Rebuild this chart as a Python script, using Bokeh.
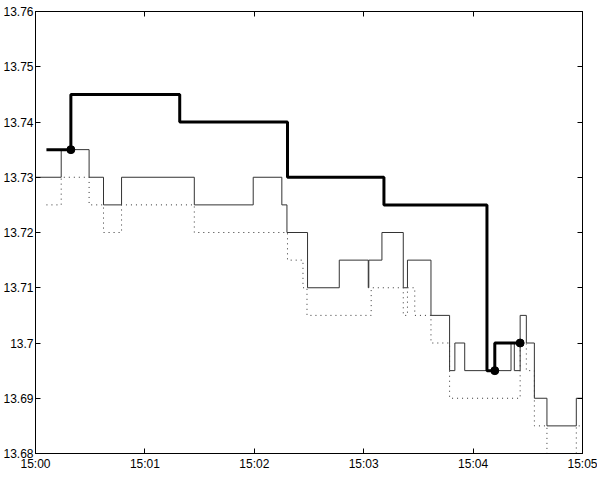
import pandas as pd
from bokeh.plotting import figure
from bokeh.models import (FixedTicker, DatetimeAxis, LinearAxis,
                          DatetimeTickFormatter, Range1d)
from bokeh.embed import file_html
from bokeh.resources import INLINE

# ---------------- data (seconds after 15:00:00) ----------------
ask_t = [0, 14.1, 29.4, 37.3, 47.2, 87.1, 119.4, 135.1, 137.9, 149.2, 166.6,
         182.5, 182.8, 190.0, 201.7, 204.0, 216.9, 227.1, 230.0, 235.4, 260.8,
         262.6, 265.8, 269.2, 273.6, 280.5, 296.6, 300]
ask_v = [13.73, 13.735, 13.73, 13.725, 13.73, 13.725, 13.73, 13.725, 13.72,
         13.71, 13.715, 13.71, 13.715, 13.72, 13.71, 13.715, 13.705, 13.695,
         13.70, 13.695, 13.70, 13.695, 13.705, 13.70, 13.69, 13.685, 13.69,
         13.69]

bid_t = [6.0, 14.1, 29.4, 37.3, 47.2, 87.1, 138.2, 146.7, 148.9, 184.1, 201.7,
         204.0, 208.0, 216.9, 227.1, 265.8, 269.2, 273.6, 280.5, 296.6, 300]
bid_v = [13.725, 13.73, 13.725, 13.72, 13.725, 13.72, 13.715, 13.71, 13.705,
         13.71, 13.705, 13.71, 13.705, 13.70, 13.69, 13.70, 13.695, 13.685,
         13.68, 13.685, 13.685]

trade_t = [6.0, 19.4, 79.1, 138.2, 191.1, 247.6, 251.9, 265.8]
trade_v = [13.735, 13.745, 13.74, 13.73, 13.725, 13.695, 13.70, 13.70]

dot_t = [19.4, 251.9, 265.8]
dot_v = [13.735, 13.695, 13.70]

x_tick_secs = [0, 60, 120, 180, 240, 300]
y_ticks = [13.68, 13.69, 13.7, 13.71, 13.72, 13.73, 13.74, 13.75, 13.76]
y_tick_labels = ["13.68", "13.69", "13.7", "13.71", "13.72", "13.73",
                 "13.74", "13.75", "13.76"]

BASE = pd.Timestamp("2000-01-01 15:00:00")


def to_dt(secs):
    return [BASE + pd.to_timedelta(s, unit="s") for s in secs]


def to_ms(secs):
    return [int((BASE + pd.to_timedelta(s, unit="s")).timestamp() * 1000)
            for s in secs]


x_ticks_ms = to_ms(x_tick_secs)

FONT = "Liberation Sans"

p = figure(width=597, height=476, x_axis_type="datetime",
           x_range=Range1d(start=to_dt([0])[0], end=to_dt([300])[0]),
           y_range=Range1d(start=13.68, end=13.76),
           output_backend="svg", toolbar_location=None,
           min_border_left=26, min_border_right=15,
           min_border_top=11, min_border_bottom=23)

p.background_fill_color = "white"
p.border_fill_color = "white"
p.xgrid.visible = False
p.ygrid.visible = False
p.outline_line_color = "black"
p.outline_line_width = 1

# main axes
xa = p.xaxis[0]
xa.ticker = FixedTicker(ticks=x_ticks_ms)
xa.formatter = DatetimeTickFormatter(seconds="%H:%M", minsec="%H:%M",
                                     minutes="%H:%M", hourmin="%H:%M",
                                     hours="%H:%M", days="%H:%M")
ya = p.yaxis[0]
ya.ticker = FixedTicker(ticks=y_ticks)
ya.major_label_overrides = {v: l for v, l in zip(y_ticks, y_tick_labels)}

for ax in (xa, ya):
    ax.major_tick_in = 5
    ax.major_tick_out = 0
    ax.minor_tick_line_color = None
    ax.axis_line_color = "black"
    ax.major_tick_line_color = "black"
    ax.major_label_text_font = FONT
    ax.major_label_text_font_size = "12px"
    ax.major_label_text_color = "black"
xa.major_label_standoff = 3
ya.major_label_standoff = 2

# mirrored tick axes (no labels)
top = DatetimeAxis(ticker=FixedTicker(ticks=x_ticks_ms),
                   major_label_overrides={m: "" for m in x_ticks_ms})
right = LinearAxis(ticker=FixedTicker(ticks=y_ticks),
                   major_label_overrides={v: "" for v in y_ticks})
for ax in (top, right):
    ax.major_tick_in = 5
    ax.major_tick_out = 0
    ax.minor_tick_line_color = None
    ax.axis_line_color = "black"
    ax.major_tick_line_color = "black"
    ax.major_label_standoff = 0
p.add_layout(top, "above")
p.add_layout(right, "right")

# series
p.step(to_dt(bid_t), bid_v, mode="after", line_color="#333333",
       line_width=1, line_dash="1 4")
p.step(to_dt(ask_t), ask_v, mode="after", line_color="#333333",
       line_width=1)
p.step(to_dt(trade_t), trade_v, mode="after", line_color="black",
       line_width=3)
p.scatter(to_dt(dot_t), dot_v, size=8, fill_color="black",
          line_color="black")

open("out.html", "w").write(file_html(p, INLINE))
